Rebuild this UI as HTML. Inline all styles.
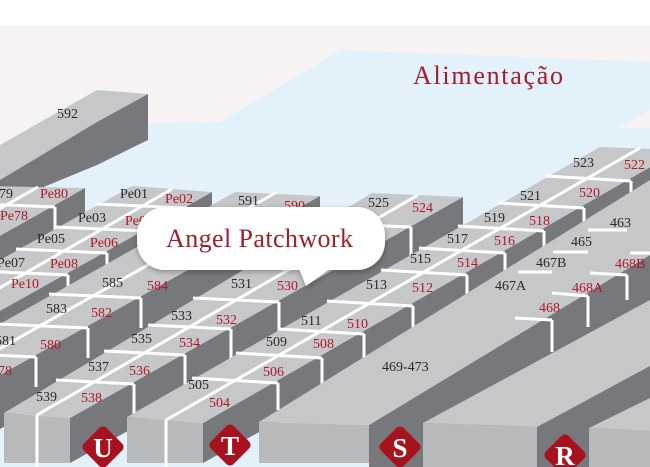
<!DOCTYPE html>
<html><head><meta charset="utf-8"><style>
html,body{margin:0;padding:0;background:#fff}
svg{display:block}
.l{font-family:"Liberation Serif",serif;font-size:14px;fill:#2a2a2a}
.r{font-family:"Liberation Serif",serif;font-size:14px;fill:#b3172c}
.t{fill:#c6c7c9}.s{fill:#77787c}.f{fill:#b8b9bb}
.w{stroke:#fff;stroke-width:3;fill:none}
.dl{font-family:"Liberation Serif",serif;font-size:27px;font-weight:bold;fill:#fff;text-anchor:middle}
</style></head><body>
<svg width="650" height="467" viewBox="0 0 650 467" xmlns="http://www.w3.org/2000/svg">
<defs><filter id="sh" x="-10%" y="-20%" width="120%" height="150%"><feDropShadow dx="0" dy="2" stdDeviation="3" flood-color="#000" flood-opacity="0.3"/></filter></defs>
<rect width="650" height="467" fill="#f6f3f2"/>
<rect width="650" height="26" fill="#fff"/>
<polygon fill="#e3f2fa" points="149,123 220,122 341,50 650,62 650,110 618,128 650,128 650,467 0,467 0,200"/>
<text x="413" y="84" font-family="Liberation Serif,serif" font-size="26" fill="#a51c2a" textLength="150">Alimentação</text>

<!-- 592 block -->
<polygon class="t" points="0,145 97,90 148,94 97,122 0,180"/>
<polygon class="s" points="148,94 148,140 97,165 0,205 0,180 97,122"/>
<text class="l" x="57" y="118">592</text>

<!-- Row X -->
<polygon class="s" points="85,188 85,233 -100,337 -100,292"/>
<polygon class="t" points="-10,186 85,188 -100,292 -100,236"/>
<line class="w" x1="38" y1="187" x2="-100" y2="265"/>
<line class="w" x1="-44" y1="203" x2="55" y2="207"/>
<line class="w" x1="55" y1="207" x2="55" y2="235"/>
<text class="l" x="-8" y="198">579</text><text class="r" x="40" y="198">Pe80</text>
<text class="r" x="0" y="220">Pe78</text>

<!-- Row W -->
<polygon class="s" points="212,192 212,240 -100,415 -100,367"/>
<polygon class="t" points="132,186 212,192 -100,367 -100,316"/>
<line class="w" x1="172" y1="189" x2="-100" y2="345"/>
<line class="w" x1="96" y1="204" x2="187" y2="208"/><line class="w" x1="187" y1="208" x2="187" y2="236"/>
<line class="w" x1="55" y1="227" x2="146" y2="231"/><line class="w" x1="146" y1="231" x2="146" y2="259"/>
<line class="w" x1="16" y1="249" x2="107" y2="253"/><line class="w" x1="107" y1="253" x2="107" y2="281"/>
<line class="w" x1="-23" y1="271" x2="68" y2="275"/><line class="w" x1="68" y1="275" x2="68" y2="303"/>
<text class="l" x="120" y="198">Pe01</text><text class="r" x="165" y="203">Pe02</text>
<text class="l" x="78" y="222">Pe03</text><text class="r" x="125" y="225">Pe04</text>
<text class="l" x="37" y="243">Pe05</text><text class="r" x="90" y="247">Pe06</text>
<text class="l" x="-3" y="267">Pe07</text><text class="r" x="50" y="268">Pe08</text>
<text class="r" x="11" y="288">Pe10</text>

<!-- Row V -->
<polygon class="s" points="320,196 320,250 -100,485 -100,431"/>
<polygon class="t" points="235,192 320,196 -100,431 -100,380"/>
<line class="w" x1="277" y1="192" x2="-100" y2="405"/>
<line class="w" x1="194" y1="213" x2="285" y2="217"/>
<line class="w" x1="49" y1="294" x2="141" y2="298"/><line class="w" x1="141" y1="298" x2="141" y2="328"/>
<line class="w" x1="-4" y1="324" x2="88" y2="328"/><line class="w" x1="88" y1="328" x2="88" y2="358"/>
<line class="w" x1="-56" y1="353" x2="36" y2="357"/><line class="w" x1="36" y1="357" x2="36" y2="387"/>
<text class="l" x="238" y="205">591</text><text class="r" x="284" y="210">590</text>
<text class="l" x="102" y="287">585</text><text class="r" x="147" y="290">584</text>
<text class="l" x="46" y="313">583</text><text class="r" x="91" y="317">582</text>
<text class="l" x="-5" y="345">581</text><text class="r" x="40" y="349">580</text>
<text class="r" x="-9" y="375">578</text>

<!-- Row U -->
<polygon class="s" points="70,418 463,197 463,245 70,463"/>
<polygon class="f" points="4,413 70,418 70,463 4,463"/>
<polygon class="t" points="4,413 70,418 463,197 372,193"/>
<line class="w" x1="418" y1="195" x2="37" y2="415"/><line class="w" x1="37" y1="415" x2="37" y2="467"/>
<line class="w" x1="318" y1="223" x2="411" y2="227"/><line class="w" x1="411" y1="227" x2="411" y2="258"/>
<line class="w" x1="193" y1="298" x2="279" y2="302"/><line class="w" x1="279" y1="302" x2="279" y2="333"/>
<line class="w" x1="148" y1="325" x2="231" y2="329"/><line class="w" x1="231" y1="329" x2="231" y2="360"/>
<line class="w" x1="104" y1="351" x2="185" y2="355"/><line class="w" x1="185" y1="355" x2="185" y2="386"/>
<line class="w" x1="56" y1="380" x2="134" y2="384"/><line class="w" x1="134" y1="384" x2="134" y2="415"/>
<text class="l" x="368" y="207">525</text><text class="r" x="412" y="212">524</text>
<text class="l" x="231" y="288">531</text><text class="r" x="277" y="290">530</text>
<text class="l" x="171" y="320">533</text><text class="r" x="216" y="324">532</text>
<text class="l" x="131" y="343">535</text><text class="r" x="179" y="347">534</text>
<text class="l" x="88" y="371">537</text><text class="r" x="129" y="375">536</text>
<text class="l" x="36" y="401">539</text><text class="r" x="81" y="402">538</text>

<!-- Row T -->
<polygon class="s" points="203,423 680,150 680,200 203,463"/>
<polygon class="f" points="127,417 203,423 203,463 127,463"/>
<polygon class="t" points="127,417 203,423 680,150 600,147"/>
<line class="w" x1="640" y1="148" x2="166" y2="420"/><line class="w" x1="166" y1="420" x2="166" y2="467"/>
<line class="w" x1="546" y1="176" x2="631" y2="181"/><line class="w" x1="631" y1="181" x2="631" y2="210"/>
<line class="w" x1="498" y1="203" x2="584" y2="208"/><line class="w" x1="584" y1="208" x2="584" y2="240"/>
<line class="w" x1="458" y1="226" x2="544" y2="231"/><line class="w" x1="544" y1="231" x2="544" y2="262"/>
<line class="w" x1="419" y1="248" x2="505" y2="253"/><line class="w" x1="505" y1="253" x2="505" y2="284"/>
<line class="w" x1="381" y1="270" x2="467" y2="275"/><line class="w" x1="467" y1="275" x2="467" y2="306"/>
<line class="w" x1="327" y1="301" x2="413" y2="306"/><line class="w" x1="413" y1="306" x2="413" y2="337"/>
<line class="w" x1="278" y1="329" x2="364" y2="334"/><line class="w" x1="364" y1="334" x2="364" y2="362"/>
<line class="w" x1="236" y1="353" x2="322" y2="358"/><line class="w" x1="322" y1="358" x2="322" y2="385"/>
<line class="w" x1="192" y1="378" x2="278" y2="383"/><line class="w" x1="278" y1="383" x2="278" y2="410"/>
<text class="l" x="573" y="167">523</text><text class="r" x="624" y="169">522</text>
<text class="l" x="520" y="200">521</text><text class="r" x="579" y="197">520</text>
<text class="l" x="484" y="222">519</text><text class="r" x="529" y="225">518</text>
<text class="l" x="447" y="243">517</text><text class="r" x="494" y="245">516</text>
<text class="l" x="410" y="263">515</text><text class="r" x="457" y="267">514</text>
<text class="l" x="366" y="289">513</text><text class="r" x="412" y="292">512</text>
<text class="l" x="301" y="325">511</text><text class="r" x="347" y="328">510</text>
<text class="l" x="266" y="346">509</text><text class="r" x="313" y="348">508</text>
<text class="r" x="263" y="376">506</text>
<text class="l" x="188" y="389">505</text><text class="r" x="209" y="407">504</text>

<!-- Row S -->
<polygon class="s" points="369,425 650,255 650,467 369,467"/>
<polygon class="f" points="259,422 369,425 369,463 259,463"/>
<polygon class="t" points="259,422 369,425 650,255 650,180"/>
<line class="w" x1="588" y1="230" x2="627" y2="230"/>
<line class="w" x1="553" y1="252" x2="588" y2="252"/>
<line class="w" x1="518" y1="272" x2="552" y2="272"/>
<line class="w" x1="630" y1="253" x2="650" y2="253"/>
<line class="w" x1="590" y1="273" x2="627" y2="275"/><line class="w" x1="627" y1="275" x2="627" y2="300"/>
<line class="w" x1="552" y1="293" x2="588" y2="296"/><line class="w" x1="588" y1="296" x2="588" y2="327"/>
<line class="w" x1="515" y1="318" x2="552" y2="320"/><line class="w" x1="552" y1="320" x2="552" y2="352"/>
<text class="l" x="610" y="227">463</text><text class="l" x="571" y="246">465</text>
<text class="l" x="536" y="267">467B</text><text class="l" x="495" y="290">467A</text>
<text class="r" x="615" y="268">468B</text><text class="r" x="572" y="292">468A</text><text class="r" x="539" y="312">468</text>
<text class="l" x="382" y="371">469-473</text>

<!-- Row R -->
<polygon class="s" points="537,427 650,366 650,467 537,467"/>
<polygon class="f" points="423,423 537,427 537,467 423,467"/>
<polygon class="t" points="423,423 537,427 650,366 650,300"/>
<!-- Row Q -->
<polygon class="f" points="589,428 650,431 650,467 589,467"/>
<polygon class="t" points="589,428 650,398 650,431"/>

<!-- diamonds -->
<g fill="#a8121f">
<rect x="87" y="431" width="32" height="32" rx="5" transform="rotate(45 103 447)"/>
<rect x="214" y="429" width="32" height="32" rx="5" transform="rotate(45 230 445)"/>
<rect x="384" y="431" width="32" height="32" rx="5" transform="rotate(45 400 447)"/>
<rect x="549" y="439" width="32" height="32" rx="5" transform="rotate(45 565 455)"/>
</g>
<text class="dl" x="103" y="457">U</text>
<text class="dl" x="230" y="455">T</text>
<text class="dl" x="400" y="457">S</text>
<text class="dl" x="565" y="465">R</text>

<!-- bubble -->
<g filter="url(#sh)" fill="#fff">
<rect x="137" y="207" width="248" height="63" rx="28"/>
<polygon points="298,266 334,266 306,286"/>
</g>
<text x="166" y="247" font-family="Liberation Serif,serif" font-size="26" fill="#a51c2a" textLength="187">Angel Patchwork</text>
</svg>
</body></html>
